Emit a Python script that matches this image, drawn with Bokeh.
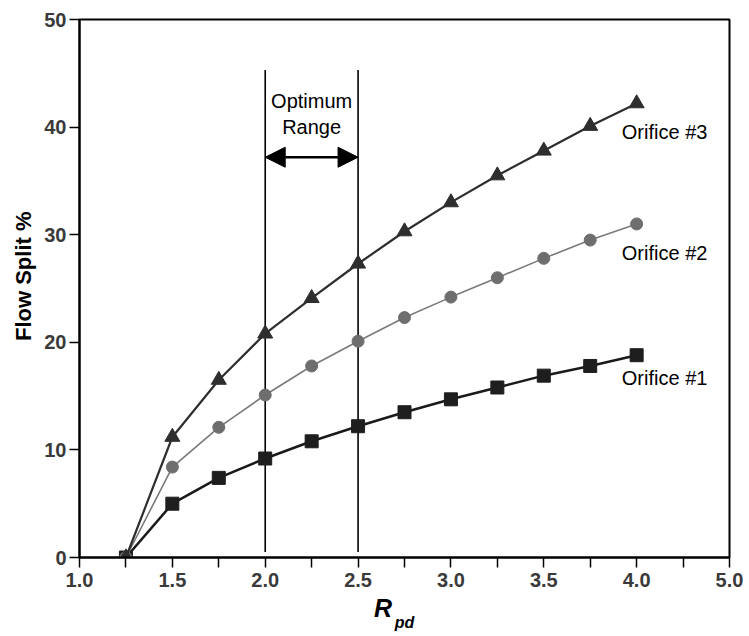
from bokeh.plotting import figure
from bokeh.models import FixedTicker, Label, Arrow, NormalHead, Range1d, LinearAxis
from bokeh.embed import file_html
from bokeh.resources import INLINE

# ---- data ----
rpd = [1.25, 1.5, 1.75, 2.0, 2.25, 2.5, 2.75, 3.0, 3.25, 3.5, 3.75, 4.0]
orifice3 = [0, 11.2, 16.5, 20.8, 24.1, 27.3, 30.3, 33.0, 35.5, 37.8, 40.1, 42.2]
orifice2 = [0, 8.4, 12.1, 15.1, 17.8, 20.1, 22.3, 24.2, 26.0, 27.8, 29.5, 31.0]
orifice1 = [0, 5.0, 7.4, 9.2, 10.8, 12.2, 13.5, 14.7, 15.8, 16.9, 17.8, 18.8]

x_ticks = [1.0, 1.5, 2.0, 2.5, 3.0, 3.5, 4.0, 4.5]
x_tick_labels = ["1.0", "1.5", "2.0", "2.5", "3.0", "3.5", "4.0", "5.0"]
x_minor = [1.25, 1.75, 2.25, 2.75, 3.25, 3.75, 4.25]
y_ticks = [0, 10, 20, 30, 40, 50]

optimum_range = [2.0, 2.5]
optimum_top = 45.3
optimum_bottom = 0.5
arrow_y = 37.2

labels = [("Orifice #3", 3.92, 39.5), ("Orifice #2", 3.92, 28.3), ("Orifice #1", 3.92, 16.7)]

FONT = "Liberation Sans"

p = figure(width=749, height=636, output_backend="svg", toolbar_location=None,
           x_range=Range1d(1.0, 4.5), y_range=Range1d(0, 50),
           min_border_left=79, min_border_right=20, min_border_top=19, min_border_bottom=79)
p.frame_width = 650
p.frame_height = 538
p.xgrid.visible = False
p.ygrid.visible = False
p.outline_line_color = "black"
p.outline_line_width = 2
p.background_fill_color = "white"
p.border_fill_color = "white"

# axes
p.xaxis.ticker = FixedTicker(ticks=x_ticks, minor_ticks=x_minor)
p.xaxis.major_label_overrides = {t: l for t, l in zip(x_ticks, x_tick_labels)}
p.yaxis.ticker = FixedTicker(ticks=y_ticks, minor_ticks=[])
for ax in (p.xaxis, p.yaxis):
    ax.axis_line_width = 2
    ax.axis_line_color = "black"
    ax.major_tick_line_width = 1.5
    ax.major_tick_line_color = "black"
    ax.minor_tick_line_width = 1.5
    ax.minor_tick_line_color = "black"
    ax.major_tick_in = 0
    ax.major_tick_out = 10
    ax.minor_tick_in = 0
    ax.minor_tick_out = 10
    ax.major_label_text_font = FONT
    ax.major_label_text_font_style = "bold"
    ax.major_label_text_font_size = "20px"
    ax.major_label_text_color = "#3a3a3a"
p.xaxis.major_label_standoff = 5
p.yaxis.major_label_standoff = 3
p.yaxis.minor_tick_out = 0

# y axis title
p.yaxis.axis_label = "\u00a0\u00a0\u00a0\u00a0Flow Split %"
p.yaxis.axis_label_text_font = FONT
p.yaxis.axis_label_text_font_style = "bold"
p.yaxis.axis_label_text_font_size = "22px"
p.yaxis.axis_label_text_color = "black"
p.yaxis.axis_label_standoff = 5

# x axis title "R" with subscript "pd" via an extra bare axis
r_pos = [2.634]
title_axis = LinearAxis(ticker=FixedTicker(ticks=r_pos, minor_ticks=[]),
                        major_label_overrides={r_pos[0]: "R"})
title_axis.axis_line_color = None
title_axis.major_tick_line_color = None
title_axis.minor_tick_line_color = None
title_axis.major_tick_out = 0
title_axis.major_tick_in = 0
title_axis.major_label_standoff = 4
title_axis.major_label_text_font = FONT
title_axis.major_label_text_font_style = "bold italic"
title_axis.major_label_text_font_size = "25px"
title_axis.major_label_text_color = "black"
title_axis.axis_label = "pd"
title_axis.axis_label_text_font = FONT
title_axis.axis_label_text_font_style = "bold italic"
title_axis.axis_label_text_font_size = "16px"
title_axis.axis_label_text_color = "black"
title_axis.axis_label_standoff = -11
p.add_layout(title_axis, "below")

# optimum range lines
for xv in optimum_range:
    p.segment(x0=xv, y0=optimum_bottom, x1=xv, y1=optimum_top, line_color="black", line_width=1.6)

p.add_layout(Arrow(start=NormalHead(size=20, fill_color="black", line_color="black"),
                   end=NormalHead(size=20, fill_color="black", line_color="black"),
                   x_start=optimum_range[0], x_end=optimum_range[1], y_start=arrow_y, y_end=arrow_y,
                   line_width=2.5, line_color="black"))

mid = (optimum_range[0] + optimum_range[1]) / 2
for txt, yy in (("Optimum", 42.4), ("Range", 40.0)):
    p.add_layout(Label(x=mid, y=yy, text=txt, text_align="center", text_baseline="middle",
                       text_font=FONT, text_font_size="20px", text_color="black"))

# series
p.line(rpd, orifice1, line_color="#1a1a1a", line_width=2.5)
p.scatter(rpd, orifice1, marker="square", size=13, fill_color="#1e1e1e", line_color="#1e1e1e")
p.line(rpd, orifice2, line_color="#7a7a7a", line_width=1.6)
p.scatter(rpd, orifice2, marker="circle", size=12, fill_color="#6e6e6e", line_color="#6e6e6e")
p.line(rpd, orifice3, line_color="#2e2e2e", line_width=2.2)
p.scatter(rpd, orifice3, marker="triangle", size=15, fill_color="#2e2e2e", line_color="#2e2e2e")

for txt, xx, yy in labels:
    p.add_layout(Label(x=xx, y=yy, text=txt, text_align="left", text_baseline="middle",
                       text_font=FONT, text_font_size="20px", text_color="black"))

open("out.html", "w").write(file_html(p, INLINE))
